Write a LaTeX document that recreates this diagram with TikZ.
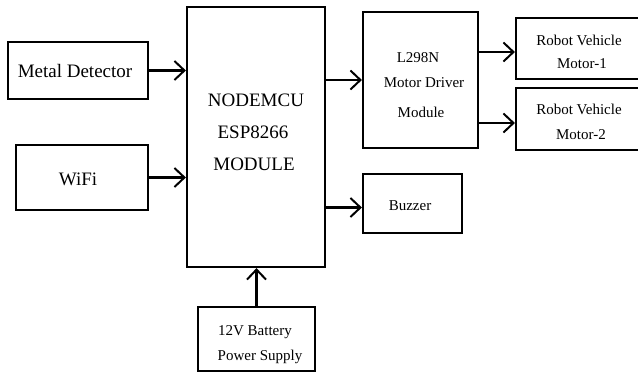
\documentclass[tikz,border=0pt]{standalone}
\usepackage{fontspec}
\setmainfont{Liberation Serif}
\usetikzlibrary{arrows.meta}
\begin{document}
\begin{tikzpicture}[x=1pt,y=-1pt,
  box/.style={draw=black,line width=2.2pt,rectangle,inner sep=0pt},
  big/.style={font=\fontsize{19}{22}\selectfont,anchor=base,inner sep=0pt},
  small/.style={font=\fontsize{15}{18}\selectfont,anchor=base,inner sep=0pt},
  conn/.style={line width=2.2pt,-{Straight Barb[length=10pt,width=19pt,line width=2pt]}}]
\useasboundingbox (0,0) rectangle (638,373);
\clip (0,0) rectangle (638,373);
% boxes
\node[box,minimum width=140pt,minimum height=57pt] (metal) at (78,70.5) {};
\node[box,minimum width=132pt,minimum height=65pt] (wifi) at (82,177.5) {};
\node[box,minimum width=138pt,minimum height=260pt] (mcu) at (256,137) {};
\node[box,minimum width=115pt,minimum height=136pt] (drv) at (420.5,80) {};
\node[box,minimum width=129pt,minimum height=61pt] (m1) at (580.5,48.5) {};
\node[box,minimum width=129pt,minimum height=62pt] (m2) at (580.5,119) {};
\node[box,minimum width=99pt,minimum height=59pt] (buz) at (412.5,203.5) {};
\node[box,minimum width=117pt,minimum height=64pt] (bat) at (256.5,339) {};
% texts
\node[big] (tmetal) at (75,77) {Metal Detector};
\node[big] (twifi) at (78,185) {WiFi};
\node[big] (tmcu1) at (256,106) {NODEMCU};
\node[big] (tmcu2) at (253,138) {ESP8266};
\node[big] (tmcu3) at (254,170) {MODULE};
\node[small] (tdrv1) at (418,62) {L298N};
\node[small] (tdrv2) at (424,87) {Motor Driver};
\node[small] (tdrv3) at (421,117) {Module};
\node[small] (tm11) at (579,45) {Robot Vehicle};
\node[small] (tm12) at (582,68) {Motor-1};
\node[small] (tm21) at (579,114) {Robot Vehicle};
\node[small] (tm22) at (581,139) {Motor-2};
\node[small] (tbuz) at (410,210) {Buzzer};
\node[small] (tbat1) at (255,335) {12V Battery};
\node[small] (tbat2) at (260,360) {Power Supply};
% connectors
\draw[conn] (metal.east) -- (mcu.west |- metal.east);
\draw[conn] (wifi.east) -- (mcu.west |- wifi.east);
\draw[conn] (mcu.east |- drv.west) -- (drv.west);
\draw[conn] ([yshift=-4pt]mcu.east |- buz.west) -- ([yshift=-4pt]buz.west);
\draw[conn] ([yshift=-3.5pt]drv.east |- m1.west) -- ([yshift=-3.5pt]m1.west);
\draw[conn] ([yshift=-4pt]drv.east |- m2.west) -- ([yshift=-4pt]m2.west);
\draw[conn] (bat.north) -- (mcu.south -| bat.north);
\end{tikzpicture}
\end{document}
